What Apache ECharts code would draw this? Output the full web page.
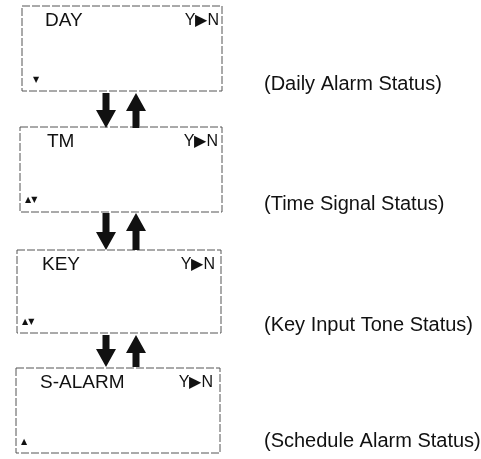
<!DOCTYPE html>
<html>
<head>
<meta charset="utf-8">
<script src="https://cdn.jsdelivr.net/npm/echarts@6/dist/echarts.min.js"></script>
<style>
  html, body { margin: 0; padding: 0; background: #fff; }
  #chart { width: 481px; height: 459px; }
</style>
</head>
<body>
<div id="chart"></div>
<script>
// 画面の内容
const screenTitles = ['DAY', 'TM', 'KEY', 'S-ALARM'];
const screenToggles = ['Y▶N', 'Y▶N', 'Y▶N', 'Y▶N'];
const screenMarks = ['▼', '▲▼', '▲▼', '▲'];
const statusLabels = [
  '(Daily Alarm Status)',
  '(Time Signal Status)',
  '(Key Input Tone Status)',
  '(Schedule Alarm Status)'
];
const arrowDirections = ['down', 'up'];

// レイアウト (ピクセル座標)
const boxLeft = [22, 20, 17, 16];
const boxRight = [222, 222, 221, 220];
const boxTop = [6, 127, 250, 368];
const boxBottom = [91, 212, 333, 453];
const titleX = [45, 47, 42, 40];
const toggleRight = [219, 218, 215, 213];
const markX = [33, 25, 22, 21];
const markY = [80, 200, 322, 442];
const labelY = [84, 204, 325, 441];
const gapTop = [93, 213, 335];
const gapBottom = [128, 250, 367];
const arrowX = { down: 106, up: 136 };

const FONT = '"Liberation Sans", Arial, sans-serif';

function renderChart() {
  const dom = document.getElementById('chart');
  const chart = echarts.init(dom);

  const arrowData = [];
  gapTop.forEach((g, i) => {
    arrowDirections.forEach((d, j) => arrowData.push([i, j]));
  });

  const option = {
    animation: false,
    grid: { left: 0, right: 0, top: 0, bottom: 0 },
    xAxis: { type: 'value', min: 0, max: 481, show: false },
    yAxis: { type: 'value', min: 0, max: 459, inverse: true, show: false },
    series: [
      {
        // 液晶画面の枠と文字
        type: 'custom',
        data: screenTitles.map((t, i) => [i]),
        renderItem: function (params, api) {
          const i = api.value(0);
          const p1 = api.coord([boxLeft[i], boxTop[i]]);
          const p2 = api.coord([boxRight[i], boxBottom[i]]);
          const ty = api.coord([0, boxTop[i] + 15])[1];
          return {
            type: 'group',
            children: [
              {
                type: 'rect',
                shape: { x: p1[0], y: p1[1], width: p2[0] - p1[0], height: p2[1] - p1[1] },
                style: { fill: 'none', stroke: '#555', lineWidth: 1, lineDash: [8, 2] }
              },
              {
                type: 'text',
                style: {
                  text: screenTitles[i], x: api.coord([titleX[i], 0])[0], y: ty,
                  font: '19px ' + FONT, fill: '#111',
                  textAlign: 'left', textVerticalAlign: 'middle'
                }
              },
              {
                type: 'text',
                style: {
                  text: screenToggles[i], x: api.coord([toggleRight[i], 0])[0], y: ty,
                  font: '16px ' + FONT, fill: '#111',
                  textAlign: 'right', textVerticalAlign: 'middle'
                }
              },
              {
                type: 'text',
                style: {
                  text: screenMarks[i], x: api.coord([markX[i], 0])[0], y: api.coord([0, markY[i]])[1],
                  font: '8px "DejaVu Sans", sans-serif', fill: '#111',
                  textAlign: 'left', textVerticalAlign: 'middle'
                }
              },
              {
                type: 'text',
                style: {
                  text: statusLabels[i], x: api.coord([264, 0])[0], y: api.coord([0, labelY[i]])[1],
                  font: '20px ' + FONT, fill: '#111',
                  textAlign: 'left', textVerticalAlign: 'middle'
                }
              }
            ]
          };
        }
      },
      {
        // 上下の矢印
        type: 'custom',
        data: arrowData,
        renderItem: function (params, api) {
          const g = api.value(0);
          const dir = arrowDirections[api.value(1)];
          const cx = api.coord([arrowX[dir], 0])[0];
          const top = api.coord([0, gapTop[g]])[1];
          const bottom = api.coord([0, gapBottom[g]])[1];
          const sw = 3.5, hw = 10, hl = 18;
          let pts;
          if (dir === 'down') {
            pts = [
              [cx - sw, top], [cx + sw, top], [cx + sw, bottom - hl], [cx + hw, bottom - hl],
              [cx, bottom], [cx - hw, bottom - hl], [cx - sw, bottom - hl]
            ];
          } else {
            pts = [
              [cx - sw, bottom], [cx + sw, bottom], [cx + sw, top + hl], [cx + hw, top + hl],
              [cx, top], [cx - hw, top + hl], [cx - sw, top + hl]
            ];
          }
          return { type: 'polygon', shape: { points: pts }, style: { fill: '#111' } };
        }
      }
    ]
  };
  chart.setOption(option, true);
}

renderChart();
</script>
</body>
</html>
